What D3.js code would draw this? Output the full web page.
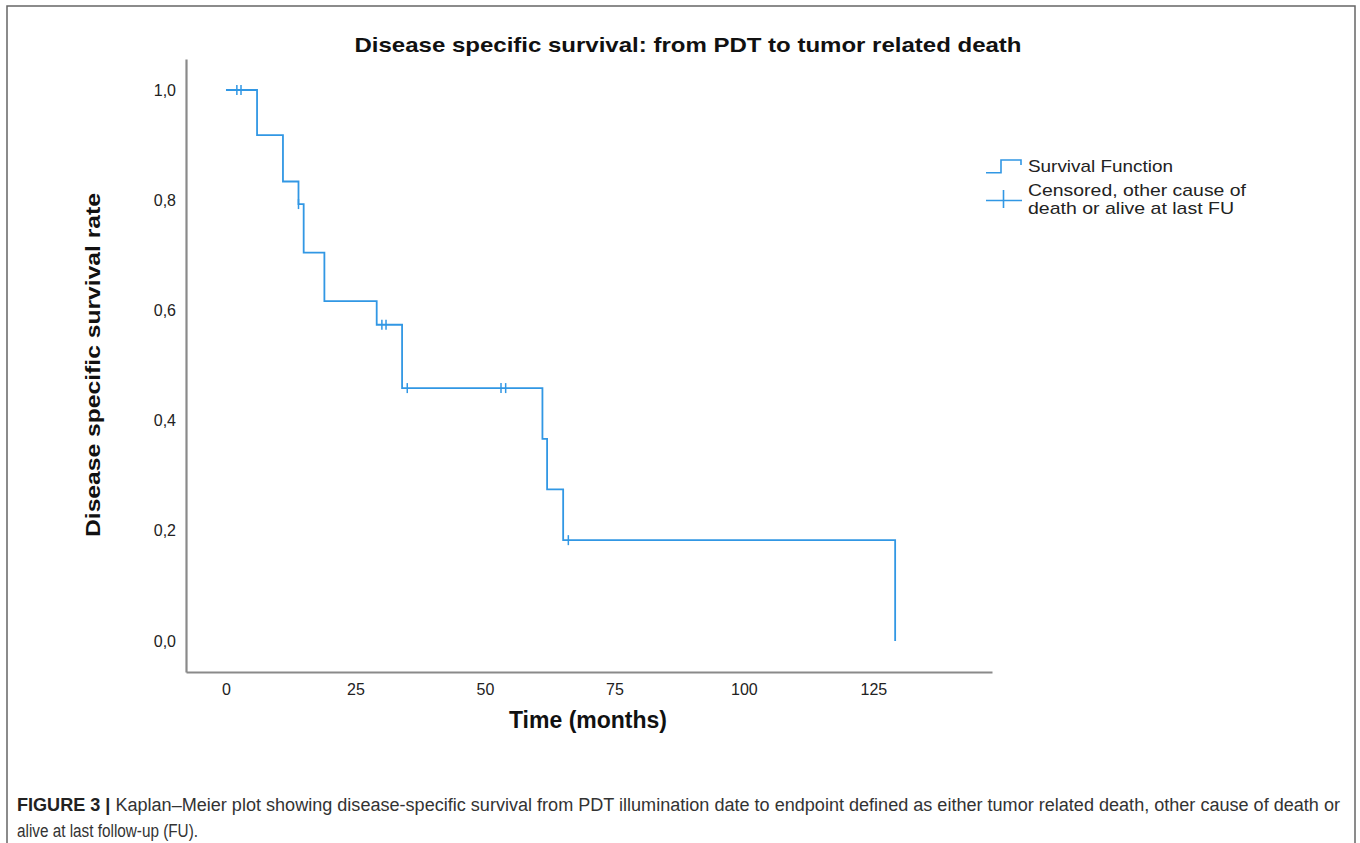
<!DOCTYPE html>
<html>
<head>
<meta charset="utf-8">
<script src="https://cdn.jsdelivr.net/npm/d3@7/dist/d3.min.js"></script>
<style>
  html, body { margin: 0; padding: 0; background: #fff; }
  svg { display: block; }
</style>
</head>
<body>
<svg id="chart" width="1360" height="843"></svg>
<script>
// ---- data ----
const eventTimes = [6, 11, 14, 15, 19, 29.1, 34, 61.1, 62, 65.1, 129.2];
const survivalAfter = [0.918, 0.834, 0.793, 0.705, 0.617, 0.574, 0.459, 0.367, 0.275, 0.183, 0.0];
const censorTimes = [2.1, 2.9, 14, 30.1, 30.9, 35, 53.1, 54, 66.1];
const xTickValues = [0, 25, 50, 75, 100, 125];
const yTickValues = [0, 0.2, 0.4, 0.6, 0.8, 1.0];

const titleText = "Disease specific survival: from PDT to tumor related death";
const xLabelText = "Time (months)";
const yLabelText = "Disease specific survival rate";
const legendLabels = ["Survival Function", "Censored, other cause of", "death or alive at last FU"];
const captionBold = "FIGURE 3 |";
const captionLine1 = " Kaplan\u2013Meier plot showing disease-specific survival from PDT illumination date to endpoint defined as either tumor related death, other cause of death or";
const captionLine2 = "alive at last follow-up (FU).";

// ---- setup ----
const svg = d3.select("#chart");
const lineColor = "#3197e4";
const axisColor = "#8a8a8a";
const font = "'Liberation Sans', Arial, sans-serif";

// frame
svg.append("rect")
  .attr("x", 7).attr("y", 6).attr("width", 1348).attr("height", 860)
  .attr("fill", "none").attr("stroke", "#666").attr("stroke-width", 1.5);

const x = d3.scaleLinear().domain([-7.72, 147.9]).range([186, 992]);
const y = d3.scaleLinear().domain([-0.0563, 1.0563]).range([672, 59]);

// axes
const fmt = d => d3.format(".1f")(d).replace(".", ",");
const yAxis = svg.append("g")
  .attr("transform", `translate(${x.range()[0]},0)`)
  .call(d3.axisLeft(y).tickValues(yTickValues).tickSize(0).tickPadding(10).tickFormat(fmt));
const xAxis = svg.append("g")
  .attr("transform", `translate(0,${y.range()[0]})`)
  .call(d3.axisBottom(x).tickValues(xTickValues).tickSize(0).tickPadding(12).tickFormat(d3.format("d")));

[xAxis, yAxis].forEach(g => {
  g.select(".domain").attr("stroke", axisColor).attr("stroke-width", 2.2);
  g.selectAll("text").attr("font-family", font).attr("font-size", 16).attr("fill", "#222");
});

// survival step line
const pts = [[0, 1]].concat(eventTimes.map((t, i) => [t, survivalAfter[i]]));
const line = d3.line().x(d => x(d[0])).y(d => y(d[1])).curve(d3.curveStepAfter);
svg.append("path")
  .attr("d", line(pts))
  .attr("fill", "none").attr("stroke", lineColor).attr("stroke-width", 1.8);

// censor marks
function levelAt(t) {
  let s = 1;
  eventTimes.forEach((et, i) => { if (et <= t) s = survivalAfter[i]; });
  return s;
}
svg.append("g").selectAll("line")
  .data(censorTimes)
  .join("line")
  .attr("x1", d => x(d)).attr("x2", d => x(d))
  .attr("y1", d => y(levelAt(d)) - 5).attr("y2", d => y(levelAt(d)) + 5)
  .attr("stroke", lineColor).attr("stroke-width", 1.5);

// title
svg.append("text")
  .attr("x", 688).attr("y", 52)
  .attr("text-anchor", "middle")
  .attr("font-family", font).attr("font-weight", "bold").attr("font-size", 21)
  .attr("fill", "#111")
  .attr("textLength", 667).attr("lengthAdjust", "spacingAndGlyphs")
  .text(titleText);

// axis titles
svg.append("text")
  .attr("transform", "translate(100,365) rotate(-90)")
  .attr("text-anchor", "middle")
  .attr("font-family", font).attr("font-weight", "bold").attr("font-size", 21)
  .attr("fill", "#111")
  .attr("textLength", 344).attr("lengthAdjust", "spacingAndGlyphs")
  .text(yLabelText);

svg.append("text")
  .attr("x", 588).attr("y", 728)
  .attr("text-anchor", "middle")
  .attr("font-family", font).attr("font-weight", "bold").attr("font-size", 23)
  .attr("fill", "#111")
  .text(xLabelText);

// legend
const lg = svg.append("g");
lg.append("path")
  .attr("d", "M986,172.7H1001V160H1021V165")
  .attr("fill", "none").attr("stroke", lineColor).attr("stroke-width", 1.6);
lg.append("line").attr("x1", 986).attr("x2", 1022).attr("y1", 200.5).attr("y2", 200.5)
  .attr("stroke", lineColor).attr("stroke-width", 1.6);
lg.append("line").attr("x1", 1003.5).attr("x2", 1003.5).attr("y1", 190).attr("y2", 208)
  .attr("stroke", lineColor).attr("stroke-width", 1.6);
const legendY = [172.3, 196, 214];
const legendW = [145, 218, 206];
legendLabels.forEach((t, i) => {
  lg.append("text")
    .attr("x", 1028).attr("y", legendY[i])
    .attr("font-family", font).attr("font-size", 17)
    .attr("fill", "#222")
    .attr("textLength", legendW[i]).attr("lengthAdjust", "spacingAndGlyphs")
    .text(t);
});

// caption
const capFont = "'Liberation Sans Narrow', 'Arial Narrow', 'Liberation Sans', sans-serif";
const cap1 = svg.append("text")
  .attr("x", 17).attr("y", 811)
  .attr("font-family", capFont).attr("font-size", 18)
  .attr("fill", "#333")
  .attr("textLength", 1323).attr("lengthAdjust", "spacingAndGlyphs");
cap1.append("tspan").attr("font-weight", "bold").attr("fill", "#222").text(captionBold);
cap1.append("tspan").text(captionLine1);
svg.append("text")
  .attr("x", 17).attr("y", 837)
  .attr("font-family", capFont).attr("font-size", 18)
  .attr("fill", "#333")
  .attr("textLength", 181).attr("lengthAdjust", "spacingAndGlyphs")
  .text(captionLine2);
</script>
</body>
</html>
